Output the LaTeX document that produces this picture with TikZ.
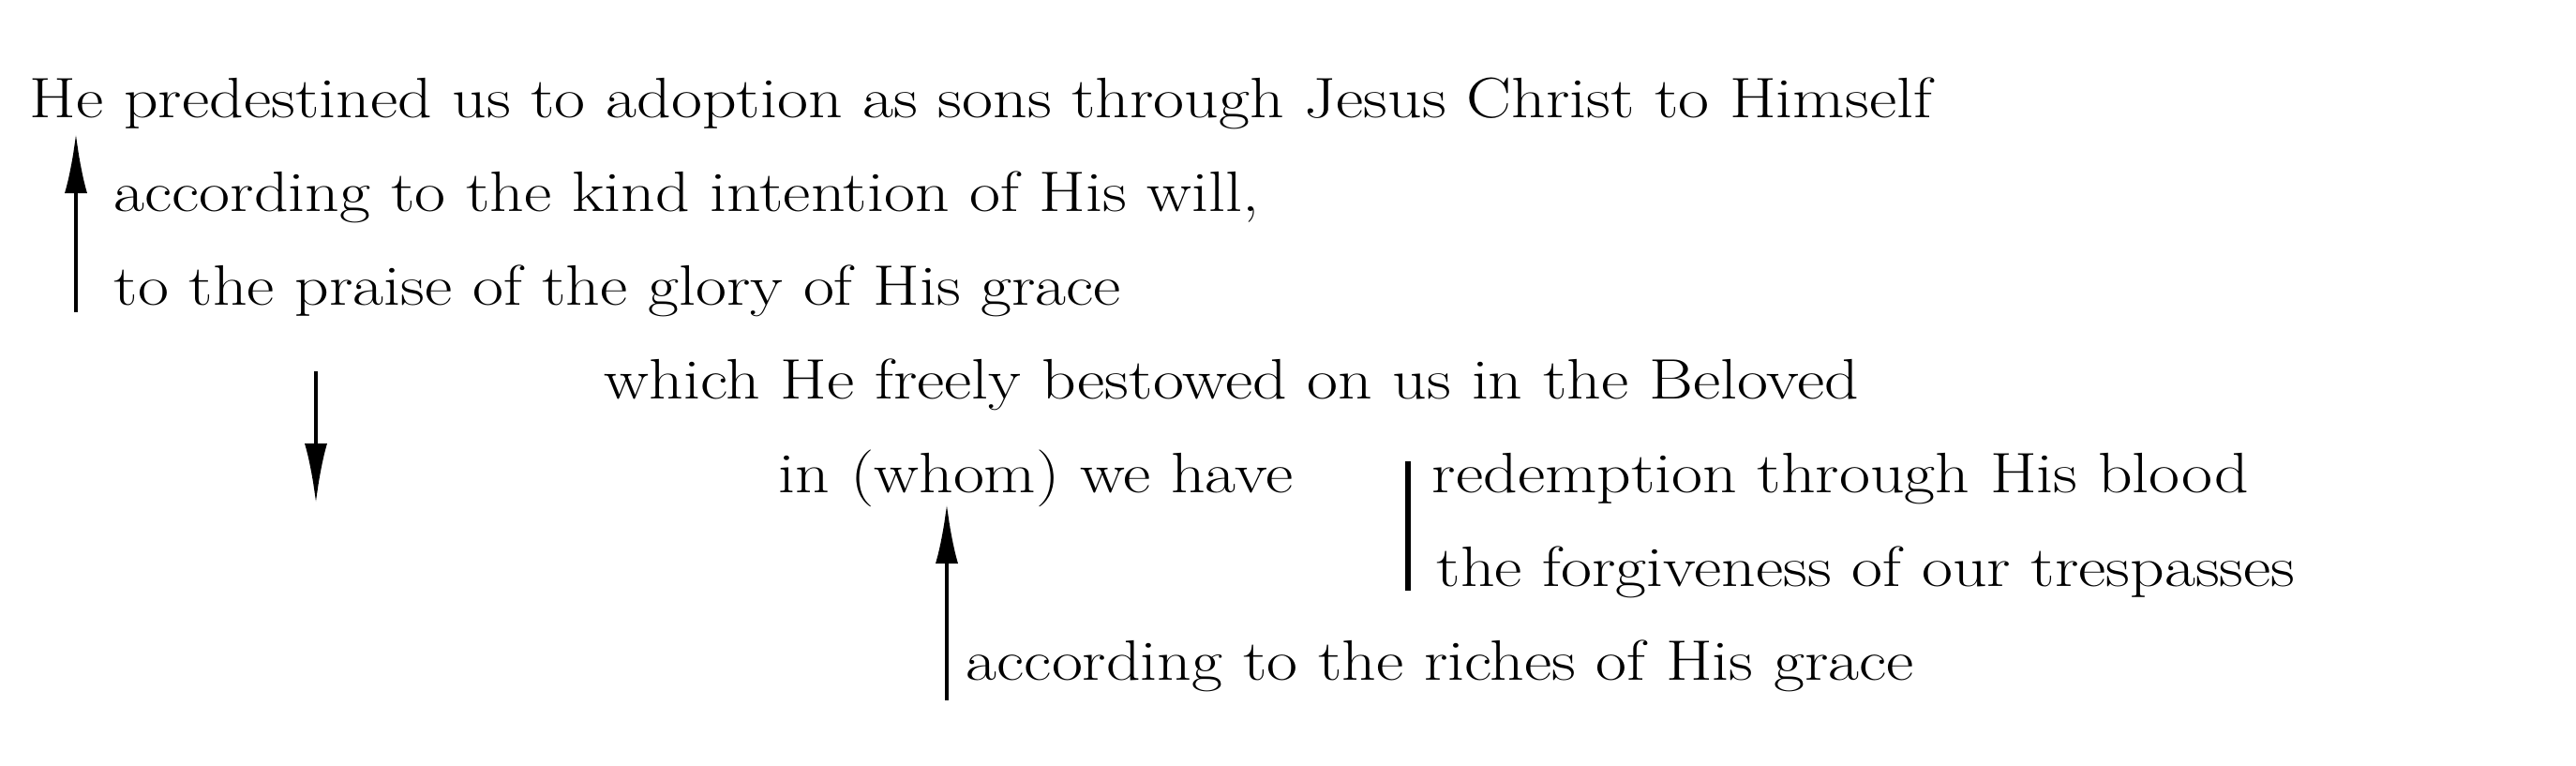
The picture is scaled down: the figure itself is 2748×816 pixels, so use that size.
\documentclass[tikz,border=0pt]{standalone}
\usepackage{graphicx}
\usetikzlibrary{arrows.meta}

\newcommand{\wide}[1]{\scalebox{1.18}[1]{#1}}

\begin{document}
\begin{tikzpicture}[x=0.25pt,y=0.25pt,yscale=-1,xscale=1,
  verse/.style={anchor=base west,inner sep=0pt,font=\fontsize{15.2}{18}\selectfont},
  uparrow/.style={line width=1.1pt,-{Latex[length=16pt,width=6pt]}}]
\useasboundingbox (0,0) rectangle (2748,816);

% Text Node
\node [verse] (pred) at (31,125) {\wide{He predestined us to adoption as sons through Jesus Christ to Himself}};
% Text Node
\node [verse] (kind) at (121,225) {\wide{according to the kind intention of His will,}};
% Text Node
\node [verse] (praise) at (121,325) {\wide{to the praise of the glory of His grace}};
% Text Node
\node [verse] (which) at (644,425) {\wide{which He freely bestowed on us in the Beloved}};
% Text Node
\node [verse] (whom) at (830,525) {\wide{in (whom) we have}};
% Text Node
\node [verse] (redem) at (1527,525) {\wide{redemption through His blood}};
% Text Node
\node [verse] (forgive) at (1532,625) {\wide{the forgiveness of our trespasses}};
% Text Node
\node [verse] (riches) at (1030,725) {\wide{according to the riches of His grace}};

\coordinate (upA) at (81,142);
\coordinate (upAend) at (81,333);
\coordinate (downB) at (337,396);
\coordinate (downBend) at (337,537);
\coordinate (upC) at (1010,537);
\coordinate (upCend) at (1010,747);
\coordinate (barTop) at (1502,492);
\coordinate (barBot) at (1502,630);

%Straight Lines
\draw [uparrow] (upAend) -- (upA);
%Straight Lines
\draw [uparrow] (downB) -- (downBend);
%Straight Lines
\draw [uparrow] (upCend) -- (upC);
%Straight Lines
\draw [line width=1.5pt] (barTop) -- (barBot);
\end{tikzpicture}
\end{document}
